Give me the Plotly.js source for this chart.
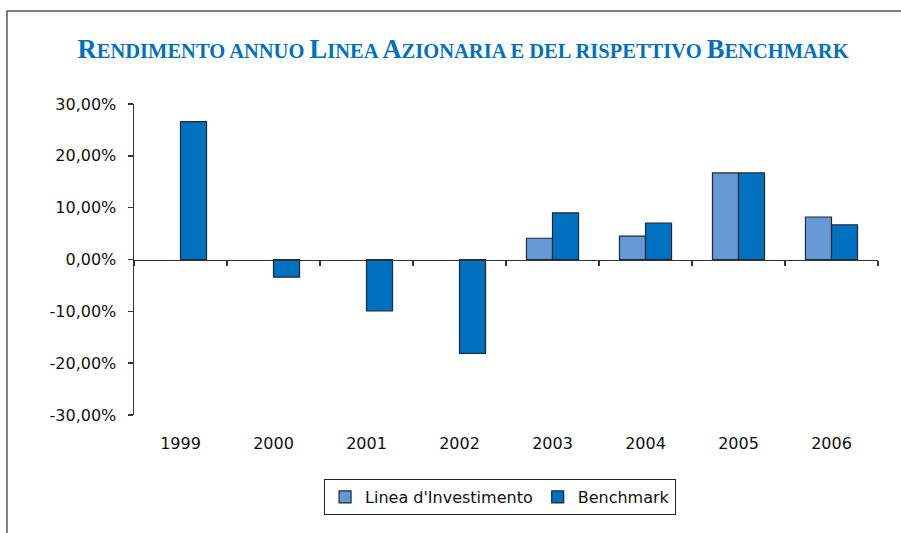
<!DOCTYPE html>
<html>
<head>
<meta charset="utf-8">
<script src="https://cdn.plot.ly/plotly-3.0.1.min.js"></script>
<style>html,body{margin:0;padding:0;background:#fff;}#chart{width:901px;height:533px;}</style>
</head>
<body>
<div id="chart"></div>
<script>
const years = ['1999','2000','2001','2002','2003','2004','2005','2006'];
const lineaInvestimento = [null, null, null, null, 4.1, 4.5, 16.7, 8.2];
const benchmark = [26.6, -3.4, -9.9, -18.1, 9.0, 7.0, 16.7, 6.7];
const yTickVals = [-30, -20, -10, 0, 10, 20, 30];
const yTickText = ['-30,00%', '-20,00%', '-10,00%', '0,00%', '10,00%', '20,00%', '30,00%'];
const seriesNames = ["Linea d'Investimento", 'Benchmark'];
const titleText = 'Rendimento annuo Linea Azionaria e del rispettivo Benchmark';

function smallCaps(s, big, small) {
  let out = '';
  for (const ch of s) {
    if (ch === ' ') { out += ' '; continue; }
    if (ch === ch.toUpperCase() && ch !== ch.toLowerCase()) {
      out += '<span style="font-size:' + big + 'px">' + ch + '</span>';
    } else {
      out += '<span style="font-size:' + small + 'px">' + ch.toUpperCase() + '</span>';
    }
  }
  return out;
}

const lineCol = '#1f2a33';
const traces = [
  {type: 'bar', x: years, y: lineaInvestimento, name: seriesNames[0],
   marker: {color: '#6699D3', line: {color: lineCol, width: 1.2}}, hoverinfo: 'skip'},
  {type: 'bar', x: years, y: benchmark, name: seriesNames[1],
   marker: {color: '#0070C0', line: {color: lineCol, width: 1.2}}, hoverinfo: 'skip'},
  {type: 'bar', x: years, y: years.map(() => null), xaxis: 'x2', showlegend: false, hoverinfo: 'skip'}
];

const layout = {
  width: 901, height: 533,
  margin: {l: 134, r: 23, t: 104, b: 118},
  paper_bgcolor: '#fff', plot_bgcolor: '#fff',
  font: {family: 'DejaVu Sans, sans-serif', size: 16, color: '#111'},
  title: {text: smallCaps(titleText, 26.5, 20.5), x: 0.514, xanchor: 'center', y: 0.905, yanchor: 'middle',
          font: {family: 'Liberation Serif, serif', weight: 'bold', color: '#0070C0', size: 20.5}},
  barmode: 'group', bargap: 0.44, bargroupgap: 0,
  showlegend: true,
  legend: {orientation: 'h', x: 0.492, xanchor: 'center', y: -0.206, yanchor: 'top',
           bordercolor: '#222', borderwidth: 1, bgcolor: '#fff',
           font: {family: 'DejaVu Sans, sans-serif', size: 16, color: '#111'},
           itemwidth: 30, tracegroupgap: 0},
  xaxis: {type: 'category', range: [-0.5, 7.5], showline: false, showgrid: false, zeroline: false,
          ticks: 'outside', ticklen: 14, tickcolor: 'rgba(0,0,0,0)', fixedrange: true,
          tickfont: {family: 'DejaVu Sans, sans-serif', size: 16, color: '#111'}},
  xaxis2: {type: 'category', overlaying: 'x', anchor: 'free', position: 0.5, side: 'bottom',
           range: [-0.5, 7.5], showticklabels: false, showline: true, linecolor: '#333', linewidth: 1.5,
           ticks: 'outside', tickson: 'boundaries', ticklen: 5, tickcolor: '#333', tickwidth: 1.5,
           showgrid: false, zeroline: false},
  yaxis: {range: [-30, 30], tickvals: yTickVals, ticktext: yTickText, showgrid: false,
          zeroline: false, showline: true, linecolor: '#333', linewidth: 1.5,
          ticks: 'outside', ticklen: 5, tickcolor: '#333', tickwidth: 1.5,
          ticklabelstandoff: 8,
          tickfont: {family: 'DejaVu Sans, sans-serif', size: 16, color: '#111'}},
  shapes: [
    {type: 'rect', xref: 'paper', yref: 'paper', x0: -0.1707, x1: 1.06, y0: -0.42, y1: 1.299,
     line: {color: '#555', width: 1.5}, fillcolor: 'rgba(0,0,0,0)', layer: 'below'}
  ]
};

Plotly.newPlot('chart', traces, layout, {staticPlot: true, displayModeBar: false});
</script>
</body>
</html>
